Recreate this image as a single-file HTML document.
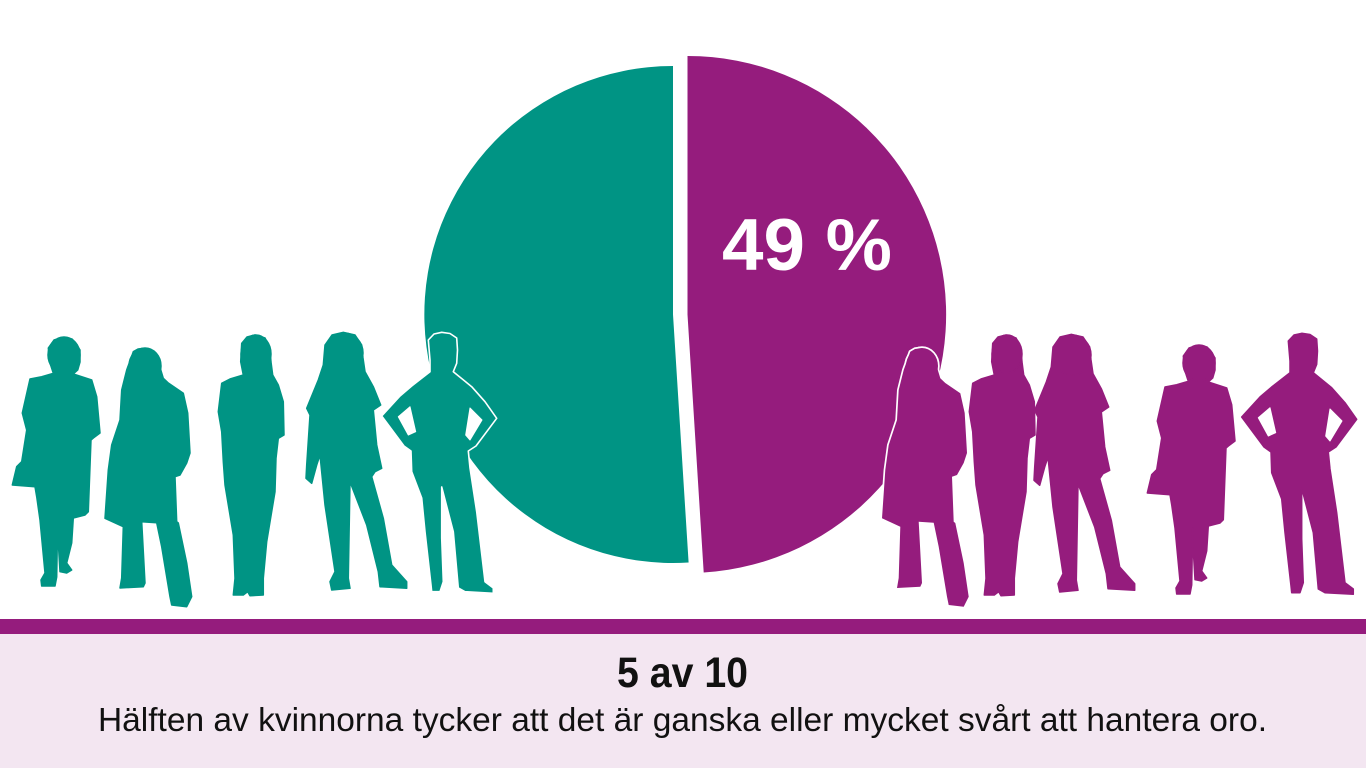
<!DOCTYPE html>
<html>
<head>
<meta charset="utf-8">
<style>
  html, body { margin: 0; padding: 0; background: #ffffff; }
  body { width: 1366px; height: 768px; overflow: hidden; }
  svg { display: block; }
  text { font-family: "Liberation Sans", "DejaVu Sans", sans-serif; }
</style>
</head>
<body>
<svg width="1366" height="768" viewBox="0 0 1366 768" xmlns="http://www.w3.org/2000/svg">
  <defs>
    <!-- Figure 1: woman with bag -->
    <g id="f1">
      <path d="M63.3,337.3 L72,339 L80,350 L80,362 L77.7,370 L73.3,374 L91.7,380 L96.7,396.7 L100,433 L93.3,438 L91,440 L88.3,511.7 L85,515 L73.3,518 L71.7,543 L66.7,563 L71.7,570 L66.7,573 L60,571.7 L58.3,543 L57.7,520 L56.7,577 L55,586 L41.7,586 L41,580 L45,573 L40,520 L36.7,496.7 L35,486.7 L12.3,485 L16.7,466.7 L21.7,461.7 L26.7,430 L22.3,413 L30,379 L41.7,376.7 L53.3,373.3 L50,363 L48.3,348 L54,340 Z"/>
      <ellipse cx="64" cy="355" rx="16" ry="18"/>
    </g>
    <!-- Figure 2: long hair coat -->
    <g id="f2">
      <path d="M145,348.3 L153,351 L158.3,361.7 L163.3,378.3 L168.3,383 L183.3,393.3 L187.7,413 L190,453 L186.7,463 L180,475 L175,476.7 L176.7,521.7 L178.3,523 L186.7,563 L191.7,596.7 L186.7,606.7 L171.7,605 L170,596.7 L161.7,546.7 L156.7,522.7 L141.7,521.7 L145,583 L143.3,586.7 L120,588 L121.7,578 L123.3,526.7 L105,518.3 L108.3,470 L111.7,445 L120,420 L121.7,390 L126.7,370 L133.3,351.7 L138,349 Z"/>
      <ellipse cx="145" cy="366" rx="16" ry="18"/>
    </g>
    <!-- Figure 3: standing slim -->
    <g id="f3">
      <path d="M255,335 L265,338 L270,348.3 L271,362 L272.7,375 L278.3,385 L283.3,401.7 L284,435 L278.3,438.3 L276,458.3 L275,491.7 L266.7,541.7 L263.3,578.3 L263.3,595 L250,595.7 L247.7,591.7 L243.3,595 L233.3,595 L235,578.3 L233.3,535 L225,485 L223.3,461.7 L221.7,431.7 L218.3,411.7 L221.7,383.3 L230,379 L243.3,375 L240.7,361.7 L241.7,343.3 L247,337 Z"/>
      <ellipse cx="256" cy="354" rx="15" ry="19"/>
    </g>
    <!-- Figure 4: t-shirt, legs apart -->
    <g id="f4">
      <path d="M343.3,332.3 L355,335 L361.7,345 L363,358 L365,371.7 L373.3,386.7 L380.7,405 L373.3,410 L376.7,445 L381.7,468.3 L375,471.7 L371.7,476.7 L383.3,518.3 L391.7,565 L406.7,581.7 L406.7,588.3 L380,586.7 L378.3,571.7 L366.7,525 L350,481.7 L348.3,578.3 L350,588.3 L331.7,590 L330,581.7 L335,571.7 L325,505 L320,455 L316.7,465 L311.7,483.3 L306,478.3 L306.7,465 L310,415 L306.7,408.3 L318.3,380 L323.3,365 L325,345 L332,335 Z"/>
      <ellipse cx="344" cy="353" rx="19" ry="20"/>
    </g>
    <!-- Figure 5: hands on hips -->
    <path id="f5" d="M441.7,332.3 L450,333.5 L456.7,338 L457.5,350 L456.7,363.3 L453.3,371.7 L471.7,386.7 L485,401.7 L496.7,418.3 L476,446 L468.3,451 L470,468 L476.7,511.7 L485,581.7 L493.3,588 L493.3,593.3 L465,591.7 L458.3,588 L453.3,531.7 L441.7,487 L441.7,538 L443.3,581.7 L440,591.7 L431.7,591.7 L431,585 L425,531.7 L421.7,498 L411.7,471.7 L411,451 L404,446 L381.7,416 L400,396 L411.7,386 L430,371.7 L430,360 L428.3,340 L434,334 Z"/>
    <path id="f5h" d="M470,408 L482,420 L470,440 L465.7,435 Z M410,406.7 L398.3,416.7 L408.3,435 L415.7,431.7 Z"/>
  </defs>

  <!-- Pie -->
  <path d="M673,314.5 L688.6,562.5 A248.5,248.5 0 1 1 673,66 Z" fill="#009484"/>
  <path d="M687.5,314.5 L687.5,56 A258.5,258.5 0 0 1 703.7,572.5 Z" fill="#951C7D"/>
  <text x="722" y="270" font-size="73" font-weight="bold" fill="#ffffff" textLength="170" lengthAdjust="spacingAndGlyphs">49 %</text>

  <!-- Teal figures -->
  <g fill="#009484" stroke="#009484" stroke-width="1.5" stroke-linejoin="round">
    <use href="#f1"/>
    <use href="#f2"/>
    <use href="#f3"/>
    <use href="#f4"/>
  </g>
  <use href="#f5" fill="#009484" stroke="#ffffff" stroke-width="1.6" stroke-linejoin="round"/>
  <use href="#f5h" fill="#ffffff" stroke="#ffffff" stroke-width="1" stroke-linejoin="round"/>

  <!-- Purple figures -->
  <use href="#f2" fill="#ffffff" stroke="#ffffff" stroke-width="3.4" stroke-linejoin="round" transform="translate(777,0)"/>
  <use href="#f2" fill="#951C7D" transform="translate(777,0)"/>
  <g fill="#951C7D" stroke="#951C7D" stroke-width="1.5" stroke-linejoin="round">
    <use href="#f3" transform="translate(751,0)"/>
    <use href="#f4" transform="translate(728,2)"/>
    <use href="#f1" transform="translate(1135,8)"/>
    <use href="#f5" transform="translate(860,1)"/>
  </g>
  <use href="#f5h" fill="#ffffff" stroke="#ffffff" stroke-width="1" stroke-linejoin="round" transform="translate(860,1)"/>

  <!-- Bottom band -->
  <rect x="0" y="619" width="1366" height="15" fill="#951C7D"/>
  <rect x="0" y="634" width="1366" height="134" fill="#F3E6F1"/>

  <text x="682.5" y="687" font-size="43" font-weight="bold" fill="#111111" text-anchor="middle" textLength="131" lengthAdjust="spacingAndGlyphs">5 av 10</text>
  <text x="682.5" y="731" font-size="33.5" fill="#111111" text-anchor="middle" textLength="1169" lengthAdjust="spacingAndGlyphs">Hälften av kvinnorna tycker att det är ganska eller mycket svårt att hantera oro.</text>
</svg>
</body>
</html>
